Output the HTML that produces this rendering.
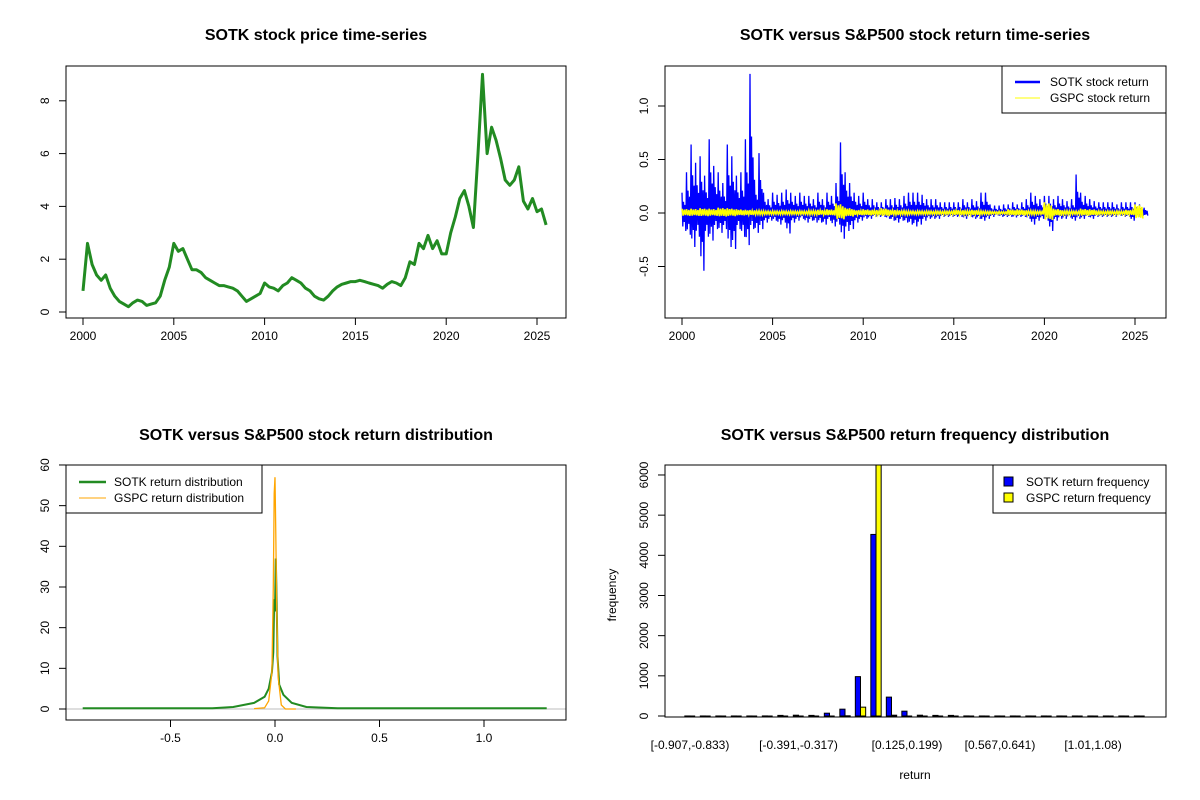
<!DOCTYPE html>
<html><head><meta charset="utf-8"><title>SOTK vs S&amp;P500</title>
<style>
body{margin:0;background:#fff;}
svg{display:block;font-family:"Liberation Sans",Arial,sans-serif;}
.t{font-size:16px;font-weight:bold;text-anchor:middle;}
.k{font-size:12px;}
</style></head>
<body>
<svg id="c" width="1200" height="800" viewBox="0 0 1200 800"></svg>
<script>
// ---- data ----
const priceStart = 2000;
const priceStep = 0.25;
const sotkPrice = [0.8,2.6,1.8,1.4, 1.2,1.4,0.9,0.6, 0.4,0.3,0.2,0.35, 0.45,0.4,0.25,0.3, 0.35,0.6,1.2,1.7,
 2.6,2.3,2.4,2.0, 1.6,1.6,1.5,1.3, 1.2,1.1,1.0,1.0, 0.95,0.9,0.8,0.6, 0.4,0.5,0.6,0.7,
 1.1,0.95,0.9,0.8, 1.0,1.1,1.3,1.2, 1.1,0.9,0.8,0.6, 0.5,0.45,0.6,0.8, 0.95,1.05,1.1,1.15,
 1.15,1.2,1.15,1.1, 1.05,1.0,0.9,1.05, 1.15,1.1,1.0,1.3, 1.9,1.8,2.6,2.4, 2.9,2.4,2.7,2.2,
 2.2,3.0,3.6,4.3, 4.6,4.0,3.2,6.0, 9.0,6.0,7.0,6.5, 5.8,5.0,4.8,5.0, 5.5,4.2,3.9,4.3, 3.8,3.9,3.3];
const sotkRetHi = [0.19,0.38,0.64,0.47, 0.53,0.35,0.69,0.44, 0.38,0.28,0.64,0.53, 0.35,0.38,0.69,1.30, 0.31,0.56,0.19,0.13,
 0.19,0.17,0.19,0.22, 0.19,0.16,0.19,0.16, 0.16,0.13,0.19,0.13, 0.19,0.16,0.28,0.66, 0.38,0.28,0.19,0.16,
 0.19,0.13,0.13,0.10, 0.10,0.13,0.13,0.14, 0.13,0.16,0.19,0.19, 0.19,0.17,0.13,0.13, 0.13,0.10,0.10,0.10,
 0.10,0.10,0.13,0.10, 0.13,0.11,0.19,0.19, 0.08,0.07,0.07,0.08, 0.08,0.10,0.08,0.10, 0.13,0.19,0.16,0.13,
 0.16,0.16,0.13,0.16, 0.13,0.11,0.13,0.36, 0.19,0.16,0.13,0.11, 0.10,0.10,0.10,0.10, 0.08,0.10,0.10,0.10, 0.10,0.08,0.05];
const sotkRetLo = [-0.28,-0.34,-0.53,-0.37, -0.90,-0.37,-0.43,-0.25, -0.31,-0.25,-0.53,-0.56, -0.25,-0.37,-0.50,-0.25, -0.31,-0.25,-0.15,-0.12,
 -0.12,-0.18,-0.15,-0.32, -0.15,-0.12,-0.09,-0.15, -0.12,-0.15,-0.15,-0.18, -0.12,-0.21,-0.18,-0.40, -0.28,-0.25,-0.15,-0.12,
 -0.09,-0.09,-0.06,-0.06, -0.06,-0.09,-0.12,-0.15, -0.12,-0.15,-0.18,-0.21, -0.18,-0.12,-0.09,-0.09, -0.09,-0.06,-0.06,-0.06,
 -0.06,-0.06,-0.09,-0.06, -0.09,-0.09,-0.12,-0.09, -0.06,-0.04,-0.06,-0.06, -0.06,-0.07,-0.06,-0.06, -0.09,-0.18,-0.12,-0.09,
 -0.12,-0.28,-0.12,-0.09, -0.09,-0.07,-0.12,-0.09, -0.09,-0.06,-0.09,-0.06, -0.06,-0.06,-0.06,-0.06, -0.04,-0.06,-0.06,-0.12, -0.06,-0.04,-0.04];
const gspcStep = 0.5;
const gspcAmp = [0.04,0.04,0.045,0.04,0.05,0.045,0.035,0.03,0.025,0.02,0.02,0.02,0.02,0.02,0.025,0.03,0.035,0.09,0.05,0.03,
 0.035,0.03,0.045,0.03,0.025,0.02,0.02,0.02,0.02,0.02,0.03,0.025,0.03,0.02,0.015,0.015,0.035,0.035,0.025,0.02,
 0.10,0.04,0.025,0.02,0.04,0.035,0.02,0.02,0.02,0.03,0.08];
const densX = [-0.92,-0.3,-0.2,-0.1,-0.05,-0.03,-0.015,-0.008,-0.004,0,0.004,0.008,0.012,0.02,0.04,0.08,0.15,0.3,1.3];
const sotkDens = [0.2,0.2,0.5,1.5,3,5,9,14,27,24,37,26,13,6,3.5,1.5,0.5,0.2,0.2];
const gspcDensX = [-0.1,-0.05,-0.03,-0.015,-0.008,-0.004,0,0.004,0.008,0.015,0.03,0.05,0.1];
const gspcDens = [0.1,0.3,2,9,30,53,57,43,25,8,1,0,0];
const sotkFreq = [1,1,1,1,1,2,15,20,15,70,170,980,4520,470,120,20,15,15,2,1,1,1,1,1,1,1,1,1,1,1];
const gspcFreq = [0,0,0,0,0,0,0,0,0,0,5,220,6400,20,0,0,0,0,0,0,0,0,0,0,0,0,0,0,0,0];
const binLabelIdx = [0,7,14,20,26];
const binLabels = ["[-0.907,-0.833)","[-0.391,-0.317)","[0.125,0.199)","[0.567,0.641)","[1.01,1.08)"];
const yearTicks = [2000,2005,2010,2015,2020,2025];
const priceTicks = [0,2,4,6,8];
const retTicks = [-0.5,0,0.5,1.0];
const densXTicks = [-0.5,0,0.5,1.0];
const densYTicks = [0,10,20,30,40,50,60];
const freqTicks = [0,1000,2000,3000,4000,5000,6000];

// ---- helpers ----
const S = document.getElementById('c');
const NS = 'http://www.w3.org/2000/svg';
function el(tag, attrs, parent){
  const e = document.createElementNS(NS, tag);
  for (const k in attrs) e.setAttribute(k, attrs[k]);
  (parent||S).appendChild(e); return e;
}
function txt(x,y,s,cls,anchor,rot){
  const e = el('text',{x:x,y:y,'class':cls,'text-anchor':anchor||'middle'});
  if(rot) e.setAttribute('transform','rotate(-90 '+x+' '+y+')');
  e.textContent = s; return e;
}
function box(x1,y1,x2,y2,name){
  const r = el('rect',{x:x1,y:y1,width:x2-x1,height:y2-y1,fill:'none',stroke:'#000','stroke-width':1});
  
  
}
function xaxis(ticks, sx, y, fmt, name){
  const g = el('g',{});
  
  
  el('line',{x1:sx(ticks[0]),x2:sx(ticks[ticks.length-1]),y1:y,y2:y,stroke:'#000'},g);
  ticks.forEach(t=>{ el('line',{x1:sx(t),x2:sx(t),y1:y,y2:y+7,stroke:'#000'},g);
    const e=txt(sx(t),y+22,fmt(t),'k'); g.appendChild(e);});
}
function yaxis(ticks, sy, x, fmt, name){
  const g = el('g',{});
  
  
  el('line',{y1:sy(ticks[0]),y2:sy(ticks[ticks.length-1]),x1:x,x2:x,stroke:'#000'},g);
  ticks.forEach(t=>{ el('line',{y1:sy(t),y2:sy(t),x1:x,x2:x-7,stroke:'#000'},g);
    const e=txt(x-17,sy(t),fmt(t),'k','middle',true); g.appendChild(e);});
}
const f1 = v => v.toFixed(1);
const f0 = v => String(v);

// ---- Panel 1: price ----
{
  const sx = y => 83 + (y-2000)*18.16, sy = v => 312 - v*26.4;
  const t = txt(316,40,'SOTK stock price time-series','t');
   
  box(66,66,566,318,'price-plot-box');
  xaxis(yearTicks, sx, 318, f0, 'price-x-axis');
  yaxis(priceTicks, sy, 66, f0, 'price-y-axis');
  const pts = sotkPrice.map((v,i)=>sx(priceStart+i*priceStep).toFixed(1)+','+sy(v).toFixed(1)).join(' ');
  const p = el('polyline',{points:pts,fill:'none',stroke:'#228B22','stroke-width':3,'stroke-linejoin':'round'});
  
  
}

// ---- Panel 2: returns ----
{
  const sx = y => 682 + (y-2000)*18.12, sy = v => 213 - v*107;
  const t = txt(915,40,'SOTK versus S&P500 stock return time-series','t');
   
  xaxis(yearTicks, sx, 318, f0, 'return-x-axis');
  yaxis(retTicks, sy, 665, f1, 'return-y-axis');
  const pat = [1,0.45,0.55,0.3,0.4,0.6];
  let pts = [];
  sotkRetHi.forEach((h,i)=>{
    for(let k=0;k<6;k++){
      const tt = priceStart + i*priceStep + k*priceStep/6;
      const v = (k%2===0 ? h : sotkRetLo[i]) * pat[k];
      pts.push(sx(tt).toFixed(1)+','+sy(v).toFixed(1));
    }
  });
  const p = el('polyline',{points:pts.join(' '),fill:'none',stroke:'#0000FF','stroke-width':1.3});
  
  
  const pat2 = [1,0.6,0.8,0.5,0.9,0.55,0.7,0.65];
  let g2 = [];
  gspcAmp.forEach((a,i)=>{
    for(let k=0;k<8;k++){
      const tt = priceStart + i*gspcStep + k*gspcStep/8;
      const v = (k%2===0?1:-1)*a*pat2[k];
      g2.push(sx(tt).toFixed(1)+','+sy(v).toFixed(1));
    }
  });
  const q = el('polyline',{points:g2.join(' '),fill:'none',stroke:'#FFFF00','stroke-width':1.6});
  
  
  box(665,66,1166,318,'return-plot-box');
  const lg = el('g',{});
  
  
  el('rect',{x:1002,y:66,width:164,height:47,fill:'#fff',stroke:'#000'},lg);
  el('line',{x1:1015,x2:1040,y1:82,y2:82,stroke:'#0000FF','stroke-width':2.5},lg);
  el('line',{x1:1015,x2:1040,y1:98,y2:98,stroke:'#FFFF00','stroke-width':1},lg);
  lg.appendChild(txt(1050,86,'SOTK stock return','k','start'));
  lg.appendChild(txt(1050,102,'GSPC stock return','k','start'));
}

// ---- Panel 3: density ----
{
  const sx = v => 275 + v*209, sy = d => 709 - d*4.067;
  const t = txt(316,440,'SOTK versus S&P500 stock return distribution','t');
   
  xaxis(densXTicks, sx, 720, f1, 'density-x-axis');
  yaxis(densYTicks, sy, 66, f0, 'density-y-axis');
  el('line',{x1:66,x2:566,y1:sy(0),y2:sy(0),stroke:'#BEBEBE'});
  const p = el('polyline',{points:densX.map((x,i)=>sx(x).toFixed(1)+','+sy(sotkDens[i]).toFixed(1)).join(' '),fill:'none',stroke:'#228B22','stroke-width':2});
  
  
  const q = el('polyline',{points:gspcDensX.map((x,i)=>sx(x).toFixed(1)+','+sy(gspcDens[i]).toFixed(1)).join(' '),fill:'none',stroke:'#FFA500','stroke-width':1.3});
  
  
  box(66,465,566,720,'density-plot-box');
  const lg = el('g',{});
  
  
  el('rect',{x:66,y:465,width:196,height:48,fill:'#fff',stroke:'#000'},lg);
  el('line',{x1:79,x2:106,y1:482,y2:482,stroke:'#228B22','stroke-width':2.5},lg);
  el('line',{x1:79,x2:106,y1:498,y2:498,stroke:'#FFA500','stroke-width':1},lg);
  lg.appendChild(txt(114,486,'SOTK return distribution','k','start'));
  lg.appendChild(txt(114,502,'GSPC return distribution','k','start'));
}

// ---- Panel 4: histogram ----
{
  const gx = i => 690 + i*15.5, bw = 5.17, sy = c => 716 - c*0.04017, top = 465;
  const t = txt(915,440,'SOTK versus S&P500 return frequency distribution','t');
   
  yaxis(freqTicks, sy, 665, f0, 'frequency-y-axis');
  const ylab = txt(616,595,'frequency','k','middle',true);
   
  const xlab = txt(915,779,'return','k');
   
  function bar(x, c, fill, name){
    const y = Math.max(sy(c), top);
    if (c <= 0) {
      const l = el('line',{x1:x,x2:x+bw,y1:sy(0),y2:sy(0),stroke:'#000','stroke-width':1});
      
      
    } else {
      const r = el('rect',{x:x,y:y,width:bw,height:Math.max(sy(0)-y,0.5),fill:fill,stroke:'#000','stroke-width':1});
      
      
    }
  }
  sotkFreq.forEach((c,i)=>{ bar(gx(i)-bw, c, '#0000FF', 'sotk-freq-bar'); bar(gx(i), gspcFreq[i], '#FFFF00', 'gspc-freq-bar'); });
  binLabelIdx.forEach((bi,j)=>{
    const e = txt(gx(bi), 749, binLabels[j], 'k');
    
    
  });
  box(665,465,1166,717,'frequency-plot-box');
  const lg = el('g',{});
  
  
  el('rect',{x:993,y:465,width:173,height:48,fill:'#fff',stroke:'#000'},lg);
  el('rect',{x:1004,y:477,width:9,height:9,fill:'#0000FF',stroke:'#000'},lg);
  el('rect',{x:1004,y:493,width:9,height:9,fill:'#FFFF00',stroke:'#000'},lg);
  lg.appendChild(txt(1026,486,'SOTK return frequency','k','start'));
  lg.appendChild(txt(1026,502,'GSPC return frequency','k','start'));
}
</script>
</body></html>
